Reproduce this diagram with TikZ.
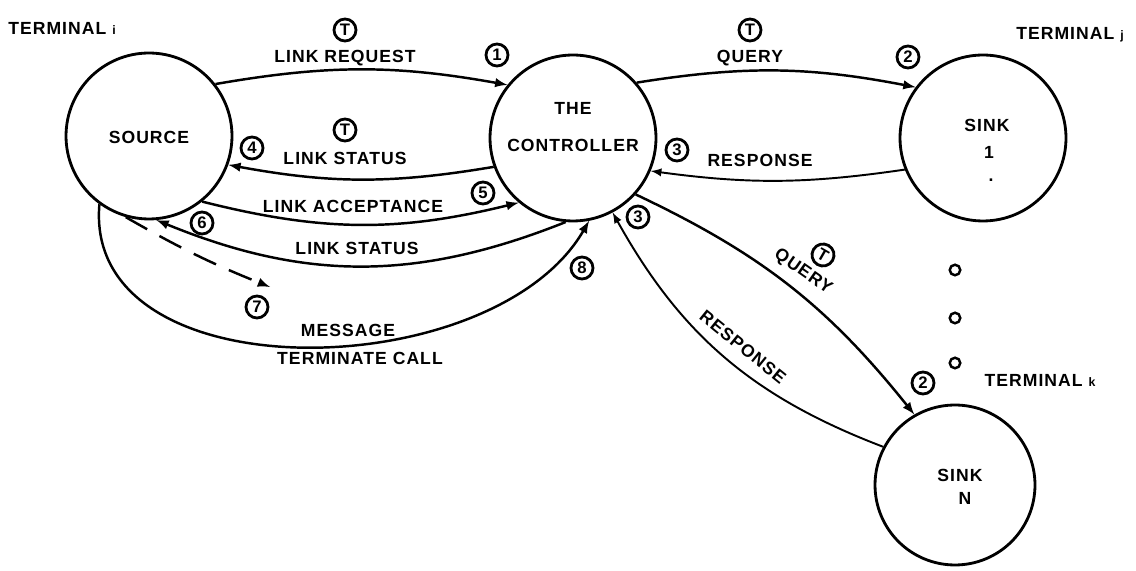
\documentclass[tikz,border=0pt]{standalone}
\usepackage{fontspec}
\setsansfont{Liberation Sans}[LetterSpace=6]
\usepackage{tikz}
\usetikzlibrary{arrows}
\tikzstyle{state}=[circle, draw, line width=1.6pt, minimum size=3.32cm, inner sep=0pt]
\tikzstyle{lbl}=[font=\sffamily\bfseries\fontsize{10}{12}\selectfont, inner sep=1pt]
\tikzstyle{badge}=[circle, draw, line width=1.6pt, inner sep=0pt, minimum size=0.44cm, font=\sffamily\bfseries\fontsize{9.5}{10}\selectfont]
\tikzstyle{flow}=[line width=1.4pt, -latex]
\tikzstyle{thinflow}=[line width=1.1pt, -latex]
\tikzstyle{dotmark}=[circle, draw, line width=1.4pt, inner sep=0pt, minimum size=6pt]

\begin{document}
\begin{tikzpicture}[x=0.02cm, y=0.02cm]
\useasboundingbox (0,0) rectangle (1136,571);
\node[state] (src) at (149,435) {};
\node[state] (ctl) at (573,433) {};
\node[state] (snka) at (983,433) {};
\node[state, minimum size=3.2cm] (snkn) at (955,86) {};

\node[lbl] (srctxt) at (149,434) {SOURCE};
\node[lbl] (ctltxta) at (573,463) {THE};
\node[lbl] (ctltxtb) at (573,426) {CONTROLLER};
\node[lbl] (snkatxta) at (987,446) {SINK};
\node[lbl] (snkatxtb) at (989,419) {1};
\node[lbl] (snkatxtc) at (991,391) {.};
\node[lbl] (snkntxta) at (960,96) {SINK};
\node[lbl] (snkntxtb) at (965,73) {N};

\node[lbl] (termi) at (62,543) {TERMINAL {\scriptsize i}};
\node[lbl] (termj) at (1070,536) {TERMINAL {\scriptsize j}};
\node[lbl] (termk) at (1040,191) {TERMINAL {\scriptsize k}};

\draw[flow] (src.38) to[bend left=10] (ctl.141);
\draw[flow] (ctl.200) to[bend left=10] (src.340);
\draw[flow] (src.309) to[bend right=14] (ctl.230);
\draw[flow] (ctl.265) to[bend left=22] (src.275);
\coordinate (msgend) at (270,284);
\draw[flow, dash pattern=on 14pt off 8pt] (src.254) to[bend right=4] (msgend);
\draw[flow] (src.234) to[out=-95, in=-120] (ctl.281);
\draw[flow] (ctl.41) to[bend left=10] (snka.143);
\draw[thinflow] (snka.202) to[bend left=8] (ctl.337);
\draw[flow] (ctl.318) to[bend left=13] (snkn.120);
\draw[thinflow] (snkn.152) to[bend left=20] (ctl.298);

\node[lbl] (lreq) at (345,513) {LINK REQUEST};
\node[lbl] (lsta) at (345,413) {LINK STATUS};
\node[lbl] (lacc) at (353,365) {LINK ACCEPTANCE};
\node[lbl] (lstb) at (357,323) {LINK STATUS};
\node[lbl] (lmsg) at (348,241) {MESSAGE};
\node[lbl] (lterm) at (360,213) {TERMINATE CALL};
\node[lbl] (lqa) at (750,513) {QUERY};
\node[lbl] (lra) at (760,411) {RESPONSE};
\node[lbl, rotate=-35] (lqn) at (803,299) {QUERY};
\node[lbl, rotate=-39] (lrn) at (743,224) {RESPONSE};

\node[badge] (ta) at (345,541) {T};
\node[badge] (tb) at (345,441) {T};
\node[badge] (tc) at (750,541) {T};
\node[badge, rotate=-30] (td) at (823,316) {T};
\node[badge] (na) at (497,516) {1};
\node[badge] (nba) at (908,514) {2};
\node[badge] (nbb) at (923,188) {2};
\node[badge] (nca) at (677,421) {3};
\node[badge] (ncb) at (638,354) {3};
\node[badge] (nd) at (252,423) {4};
\node[badge] (ne) at (483,378) {5};
\node[badge] (nf) at (202,348) {6};
\node[badge] (ng) at (257,264) {7};
\node[badge] (nh) at (582,303) {8};

\foreach \y [count=\i] in {301,253,208}
  \node[dotmark] (dot\i) at (955,\y) {};
\end{tikzpicture}
\end{document}
